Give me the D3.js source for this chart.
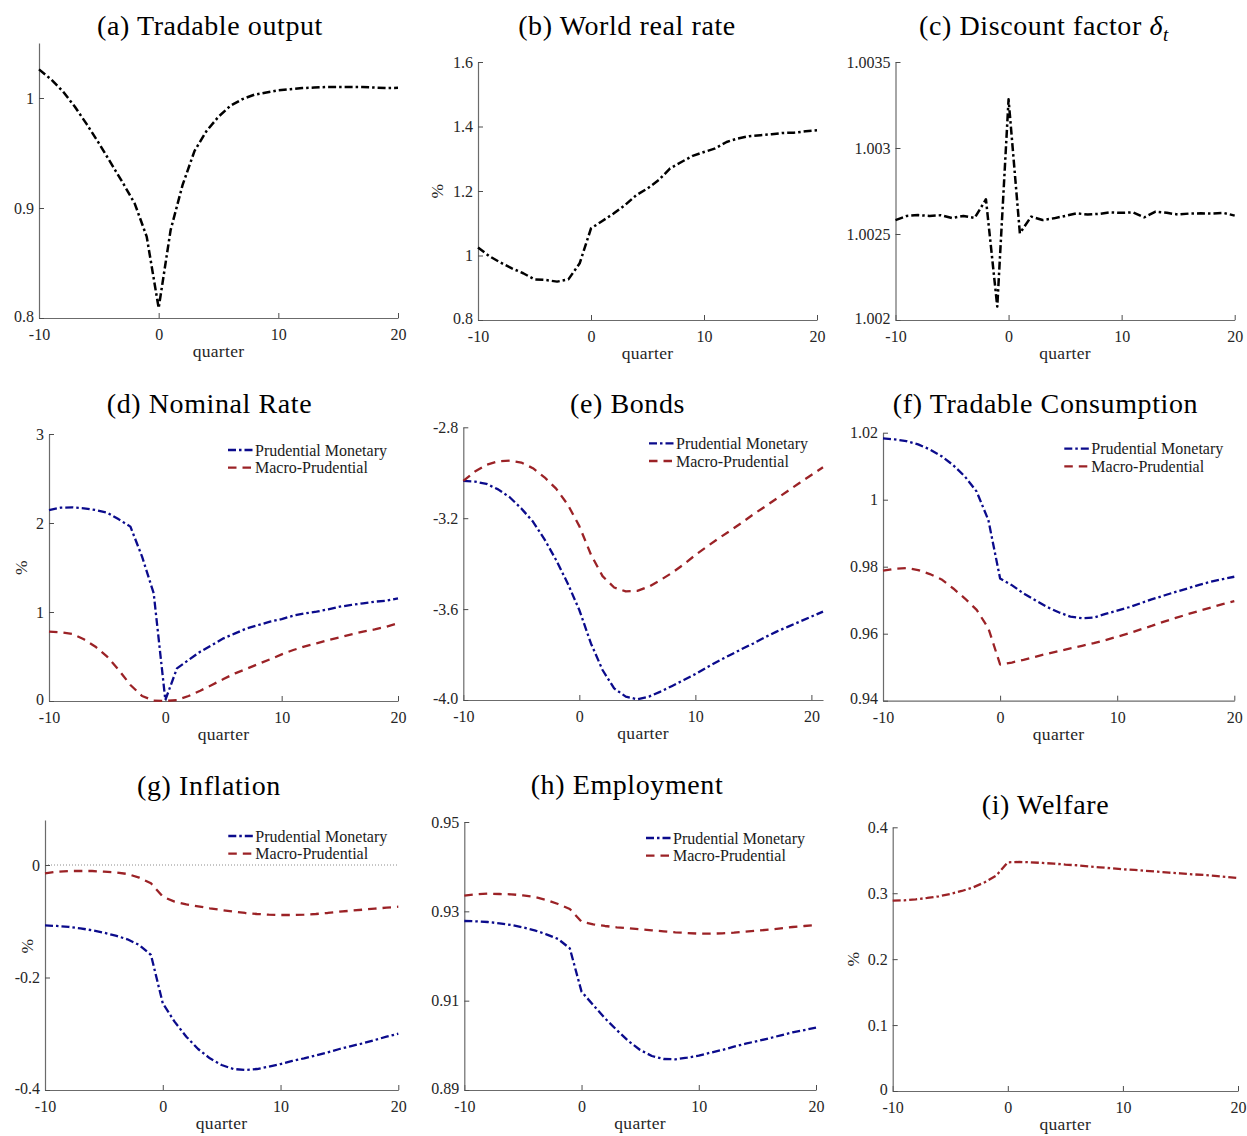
<!DOCTYPE html>
<html>
<head>
<meta charset="utf-8">
<script src="https://cdn.jsdelivr.net/npm/d3@7"></script>
<style>
  html, body { margin: 0; padding: 0; background: #ffffff; }
  svg { display: block; }
  .tick text { font-family: "Liberation Serif", "DejaVu Serif", serif; font-size: 16px; fill: #262626; }
  .tick line { stroke: #4d4d4d; stroke-width: 1; }
  .domain { stroke: #6b6b6b; stroke-width: 1.2; }
  .title { font-family: "Liberation Serif", serif; font-size: 28px; letter-spacing: 0.6px; fill: #000; }
  .axis-label { font-family: "Liberation Serif", serif; font-size: 17.5px; letter-spacing: 0.3px; fill: #262626; }
  .legend-text { font-family: "Liberation Serif", serif; font-size: 16px; fill: #1a1a1a; }
</style>
</head>
<body>
<svg id="chart" width="1247" height="1136"></svg>
<script>
// Quarters relative to the shock (t = 0)
const quarters = [-10, -9, -8, -7, -6, -5, -4, -3, -2, -1, 0, 1, 2, 3, 4, 5, 6, 7, 8, 9, 10, 11, 12, 13, 14, 15, 16, 17, 18, 19, 20];
const quartersBonds = [-10, -9, -8, -7, -6, -5, -4, -3, -2, -1, 0, 1, 2, 3, 4, 5, 6, 7, 8, 9, 10, 11, 12, 13, 14, 15, 16, 17, 18, 19, 20, 21];

// (a) Tradable output
const tradableOutput = [1.026, 1.017, 1.006, 0.992, 0.976, 0.959, 0.941, 0.923, 0.904, 0.874, 0.809,
  0.880, 0.921, 0.952, 0.970, 0.983, 0.993, 0.999, 1.003, 1.005, 1.007, 1.008, 1.009, 1.0095, 1.010,
  1.010, 1.010, 1.010, 1.0095, 1.009, 1.0093];

// (b) World real rate, %
const worldRealRate = [1.025, 0.998, 0.978, 0.960, 0.945, 0.926, 0.924, 0.919, 0.926, 0.976, 1.084,
  1.107, 1.130, 1.156, 1.187, 1.208, 1.234, 1.270, 1.290, 1.309, 1.321, 1.332, 1.352, 1.363, 1.370,
  1.373, 1.376, 1.380, 1.381, 1.385, 1.388];

// (c) Discount factor
const discountFactor = [1.002581, 1.002605, 1.002610, 1.002605, 1.002609, 1.002593, 1.002605, 1.002593, 1.002702, 1.002078, 1.003283,
  1.002504, 1.002601, 1.002581, 1.002591, 1.002605, 1.002620, 1.002613, 1.002617, 1.002626, 1.002623, 1.002626, 1.002597, 1.002630, 1.002623,
  1.002613, 1.002619, 1.002620, 1.002619, 1.002623, 1.002607];

// (d) Nominal rate, %
const nominalRatePM = [2.146, 2.172, 2.176, 2.165, 2.146, 2.116, 2.041, 1.959, 1.622, 1.210, 0.011,
  0.367, 0.461, 0.554, 0.629, 0.704, 0.760, 0.816, 0.854, 0.891, 0.921, 0.959, 0.985, 1.004, 1.030,
  1.060, 1.079, 1.097, 1.116, 1.127, 1.154];
const nominalRateMP = [0.779, 0.772, 0.753, 0.693, 0.610, 0.498, 0.348, 0.180, 0.056, 0.004, 0.000,
  0.011, 0.056, 0.116, 0.180, 0.247, 0.311, 0.363, 0.416, 0.468, 0.524, 0.573, 0.614, 0.648, 0.685,
  0.715, 0.749, 0.779, 0.805, 0.835, 0.873];

// (e) Bonds
const bondsPM = [-3.036, -3.039, -3.049, -3.073, -3.108, -3.157, -3.215, -3.293, -3.384, -3.487, -3.604,
  -3.751, -3.868, -3.949, -3.985, -3.997, -3.985, -3.963, -3.938, -3.912, -3.886, -3.856, -3.828, -3.802, -3.776,
  -3.751, -3.724, -3.699, -3.677, -3.655, -3.633, -3.611];
const bondsMP = [-3.036, -2.995, -2.965, -2.950, -2.947, -2.955, -2.980, -3.020, -3.070, -3.140, -3.235,
  -3.360, -3.455, -3.505, -3.522, -3.520, -3.501, -3.472, -3.440, -3.403, -3.362, -3.325, -3.289, -3.255, -3.220,
  -3.183, -3.149, -3.114, -3.079, -3.044, -3.010, -2.976];

// (f) Tradable consumption
const consumptionPM = [1.0183, 1.0180, 1.0175, 1.0165, 1.0150, 1.0130, 1.0103, 1.0069, 1.0024, 0.9939, 0.9765,
  0.9745, 0.9720, 0.9700, 0.9680, 0.9664, 0.9651, 0.9646, 0.9648, 0.9659, 0.9669, 0.9679, 0.9691, 0.9703, 0.9714,
  0.9725, 0.9735, 0.9746, 0.9755, 0.9763, 0.9770];
const consumptionMP = [0.9788, 0.9794, 0.9796, 0.9790, 0.9778, 0.9762, 0.9735, 0.9705, 0.9671, 0.9616, 0.9508,
  0.9514, 0.9522, 0.9531, 0.9540, 0.9548, 0.9556, 0.9564, 0.9572, 0.9581, 0.9591, 0.9601, 0.9613, 0.9624, 0.9636,
  0.9647, 0.9658, 0.9668, 0.9678, 0.9688, 0.9697];

// (g) Inflation, %
const inflationPM = [-0.1073, -0.1084, -0.1100, -0.1126, -0.1161, -0.1203, -0.1256, -0.1321, -0.1422, -0.1600, -0.2459,
  -0.2785, -0.3052, -0.3271, -0.3437, -0.3556, -0.3627, -0.3644, -0.3627, -0.3585, -0.3538, -0.3484, -0.3437, -0.3384, -0.3330,
  -0.3271, -0.3218, -0.3170, -0.3111, -0.3052, -0.2999];
const inflationMP = [-0.0148, -0.0119, -0.0107, -0.0107, -0.0107, -0.0119, -0.0130, -0.0160, -0.0225, -0.0326, -0.0563,
  -0.0652, -0.0699, -0.0735, -0.0770, -0.0800, -0.0830, -0.0853, -0.0871, -0.0883, -0.0889, -0.0889, -0.0883, -0.0871, -0.0853,
  -0.0830, -0.0812, -0.0794, -0.0776, -0.0759, -0.0741];

// (h) Employment
const employmentPM = [0.92784, 0.92776, 0.92761, 0.92731, 0.92694, 0.92642, 0.92575, 0.92485, 0.92381, 0.92172, 0.91202,
  0.90903, 0.90605, 0.90343, 0.90097, 0.89896, 0.89761, 0.89694, 0.89687, 0.89724, 0.89769, 0.89836, 0.89896, 0.89970, 0.90037,
  0.90097, 0.90157, 0.90224, 0.90291, 0.90343, 0.90396];
const employmentMP = [0.93351, 0.93381, 0.93396, 0.93388, 0.93381, 0.93358, 0.93321, 0.93254, 0.93164, 0.93052, 0.92769,
  0.92709, 0.92672, 0.92642, 0.92620, 0.92597, 0.92575, 0.92552, 0.92530, 0.92515, 0.92500, 0.92500, 0.92508, 0.92523, 0.92545,
  0.92567, 0.92590, 0.92620, 0.92649, 0.92672, 0.92694];

// (i) Welfare, %
const welfareMP = [0.2888, 0.2893, 0.2908, 0.2928, 0.2953, 0.2989, 0.3034, 0.3090, 0.3166, 0.3267, 0.3469,
  0.3474, 0.3469, 0.3459, 0.3449, 0.3434, 0.3424, 0.3408, 0.3393, 0.3378, 0.3363, 0.3353, 0.3338, 0.3327, 0.3312,
  0.3302, 0.3287, 0.3277, 0.3262, 0.3247, 0.3231];

// Tick values and labels
const xTicks = [-10, 0, 10, 20];
const xTickLabels = ["-10", "0", "10", "20"];
const yTicksA = [0.8, 0.9, 1];            const yLabelsA = ["0.8", "0.9", "1"];
const yTicksB = [0.8, 1, 1.2, 1.4, 1.6];  const yLabelsB = ["0.8", "1", "1.2", "1.4", "1.6"];
const yTicksC = [1.002, 1.0025, 1.003, 1.0035]; const yLabelsC = ["1.002", "1.0025", "1.003", "1.0035"];
const yTicksD = [0, 1, 2, 3];             const yLabelsD = ["0", "1", "2", "3"];
const yTicksE = [-4.0, -3.6, -3.2, -2.8]; const yLabelsE = ["-4.0", "-3.6", "-3.2", "-2.8"];
const yTicksF = [0.94, 0.96, 0.98, 1, 1.02]; const yLabelsF = ["0.94", "0.96", "0.98", "1", "1.02"];
const yTicksG = [-0.4, -0.2, 0];          const yLabelsG = ["-0.4", "-0.2", "0"];
const yTicksH = [0.89, 0.91, 0.93, 0.95]; const yLabelsH = ["0.89", "0.91", "0.93", "0.95"];
const yTicksI = [0, 0.1, 0.2, 0.3, 0.4];  const yLabelsI = ["0", "0.1", "0.2", "0.3", "0.4"];

const seriesNames = ["Prudential Monetary", "Macro-Prudential"];

// Line styles
const BLUE = "#0b0b8c", RED = "#9b2226", BLACK = "#000000";
const DASHDOT = "8,3,2.5,3";
const DASHED = "8.5,6";

const svg = d3.select("#chart");

// Panel layout (pixel frames of each axes box)
const panels = [
  { title: ["(a) Tradable output"], tx: 210, ty: 35,
    left: 39, right: 398, top: 43, bottom: 318, xDomain: [-10, 20], yDomain: [0.8, 1.05],
    yTicks: yTicksA, yLabels: yLabelsA, yLabel: null,
    lines: [{ q: quarters, v: tradableOutput, color: BLACK, dash: DASHDOT, w: 2.5 }] },
  { title: ["(b) World real rate"], tx: 627, ty: 35,
    left: 478, right: 817, top: 62, bottom: 320, xDomain: [-10, 20], yDomain: [0.8, 1.6],
    yTicks: yTicksB, yLabels: yLabelsB, yLabel: { x: 437 },
    lines: [{ q: quarters, v: worldRealRate, color: BLACK, dash: DASHDOT, w: 2.5 }] },
  { title: ["(c) Discount factor ", "δ", "t"], tx: 1044, ty: 35,
    left: 895.5, right: 1234.7, top: 62, bottom: 320, xDomain: [-10, 20], yDomain: [1.002, 1.0035],
    yTicks: yTicksC, yLabels: yLabelsC, yLabel: null,
    lines: [{ q: quarters, v: discountFactor, color: BLACK, dash: DASHDOT, w: 2.5 }] },
  { title: ["(d) Nominal Rate"], tx: 209.5, ty: 413,
    left: 49, right: 398, top: 434, bottom: 701, xDomain: [-10, 20], yDomain: [0, 3],
    yTicks: yTicksD, yLabels: yLabelsD, yLabel: { x: 21 }, legend: true,
    lines: [{ q: quarters, v: nominalRatePM, color: BLUE, dash: DASHDOT, w: 2.3 },
            { q: quarters, v: nominalRateMP, color: RED, dash: DASHED, w: 2.3 }] },
  { title: ["(e) Bonds"], tx: 627.5, ty: 413,
    left: 463.3, right: 823, top: 427.3, bottom: 700, xDomain: [-10, 21], yDomain: [-4.0, -2.8],
    yTicks: yTicksE, yLabels: yLabelsE, yLabel: null, legend: true, legendDx: -147,
    lines: [{ q: quartersBonds, v: bondsPM, color: BLUE, dash: DASHDOT, w: 2.3 },
            { q: quartersBonds, v: bondsMP, color: RED, dash: DASHED, w: 2.3 }] },
  { title: ["(f) Tradable Consumption"], tx: 1045.5, ty: 413,
    left: 883, right: 1234.3, top: 432.7, bottom: 700.7, xDomain: [-10, 20], yDomain: [0.94, 1.02],
    yTicks: yTicksF, yLabels: yLabelsF, yLabel: null, legend: true,
    lines: [{ q: quarters, v: consumptionPM, color: BLUE, dash: DASHDOT, w: 2.3 },
            { q: quarters, v: consumptionMP, color: RED, dash: DASHED, w: 2.3 }] },
  { title: ["(g) Inflation"], tx: 209, ty: 795,
    left: 45, right: 398.3, top: 820, bottom: 1090, xDomain: [-10, 20], yDomain: [-0.4, 0.08],
    yTicks: yTicksG, yLabels: yLabelsG, yLabel: { x: 27, y: 946 }, legend: true, zeroLine: true,
    lines: [{ q: quarters, v: inflationPM, color: BLUE, dash: DASHDOT, w: 2.3 },
            { q: quarters, v: inflationMP, color: RED, dash: DASHED, w: 2.3 }] },
  { title: ["(h) Employment"], tx: 627, ty: 794,
    left: 464.3, right: 816, top: 822, bottom: 1090, xDomain: [-10, 20], yDomain: [0.89, 0.95],
    yTicks: yTicksH, yLabels: yLabelsH, yLabel: null, legend: true,
    lines: [{ q: quarters, v: employmentPM, color: BLUE, dash: DASHDOT, w: 2.3 },
            { q: quarters, v: employmentMP, color: RED, dash: DASHED, w: 2.3 }] },
  { title: ["(i) Welfare"], tx: 1045.5, ty: 814,
    left: 892.7, right: 1238, top: 827.3, bottom: 1091, xDomain: [-10, 20], yDomain: [0, 0.4],
    yTicks: yTicksI, yLabels: yLabelsI, yLabel: { x: 852.7 },
    lines: [{ q: quarters, v: welfareMP, color: RED, dash: DASHDOT, w: 2.3 }] }
];

panels.forEach(p => {
  const x = d3.scaleLinear().domain(p.xDomain).range([p.left, p.right]);
  const y = d3.scaleLinear().domain(p.yDomain).range([p.bottom, p.top]);

  // Title (with italic δ_t for the discount factor)
  const t = svg.append("text").attr("class", "title")
    .attr("x", p.tx).attr("y", p.ty).attr("text-anchor", "middle");
  t.append("tspan").text(p.title[0]);
  if (p.title.length > 1) {
    t.append("tspan").attr("font-style", "italic").text(p.title[1]);
    t.append("tspan").attr("font-style", "italic").attr("font-size", "19px")
      .attr("dy", 6).text(p.title[2]);
  }

  // Zero reference line
  if (p.zeroLine) {
    svg.append("line")
      .attr("x1", p.left).attr("x2", p.right)
      .attr("y1", y(0)).attr("y2", y(0))
      .attr("stroke", "#8c8c8c").attr("stroke-width", 1)
      .attr("stroke-dasharray", "1,2");
  }

  // Axes: ticks point inward, no box
  svg.append("g")
    .attr("transform", `translate(0,${p.bottom})`)
    .call(d3.axisBottom(x).tickValues(xTicks)
      .tickFormat((d, i) => xTickLabels[i])
      .tickSizeInner(-5).tickSizeOuter(0).tickPadding(11));

  const gy = svg.append("g")
    .attr("transform", `translate(${p.left},0)`)
    .call(d3.axisLeft(y).tickValues(p.yTicks)
      .tickFormat((d, i) => p.yLabels[i])
      .tickSizeInner(-5).tickSizeOuter(0).tickPadding(5));
  // lift the lowest label a little so it clears the x tick labels
  gy.selectAll(".tick text").filter(d => d === p.yDomain[0]).attr("y", -2);

  svg.append("text").attr("class", "axis-label")
    .attr("x", (p.left + p.right) / 2).attr("y", p.bottom + 39)
    .attr("text-anchor", "middle").text("quarter");

  if (p.yLabel) {
    const ly = p.yLabel.y !== undefined ? p.yLabel.y : (p.top + p.bottom) / 2;
    svg.append("text").attr("class", "axis-label")
      .attr("transform", `translate(${p.yLabel.x},${ly}) rotate(-90)`)
      .attr("text-anchor", "middle").attr("dy", "0.35em").text("%");
  }

  // Series
  p.lines.forEach(s => {
    const pts = s.q.map((q, i) => [q, s.v[i]]);
    svg.append("path")
      .datum(pts)
      .attr("fill", "none")
      .attr("stroke", s.color)
      .attr("stroke-width", s.w)
      .attr("stroke-dasharray", s.dash)
      .attr("stroke-linejoin", "round")
      .attr("d", d3.line().x(d => x(d[0])).y(d => y(d[1])));
  });

  // Legend
  if (p.legend) {
    const tx0 = p.right + (p.legendDx !== undefined ? p.legendDx : -143);
    p.lines.forEach((s, i) => {
      const ry = p.top + 16 + i * 17.7;
      svg.append("line")
        .attr("x1", tx0 - 27).attr("x2", tx0 - 2)
        .attr("y1", ry).attr("y2", ry)
        .attr("stroke", s.color).attr("stroke-width", s.w)
        .attr("stroke-dasharray", s.dash);
      svg.append("text").attr("class", "legend-text")
        .attr("x", tx0).attr("y", ry).attr("dy", "0.35em")
        .text(seriesNames[i]);
    });
  }
});
</script>
</body>
</html>
